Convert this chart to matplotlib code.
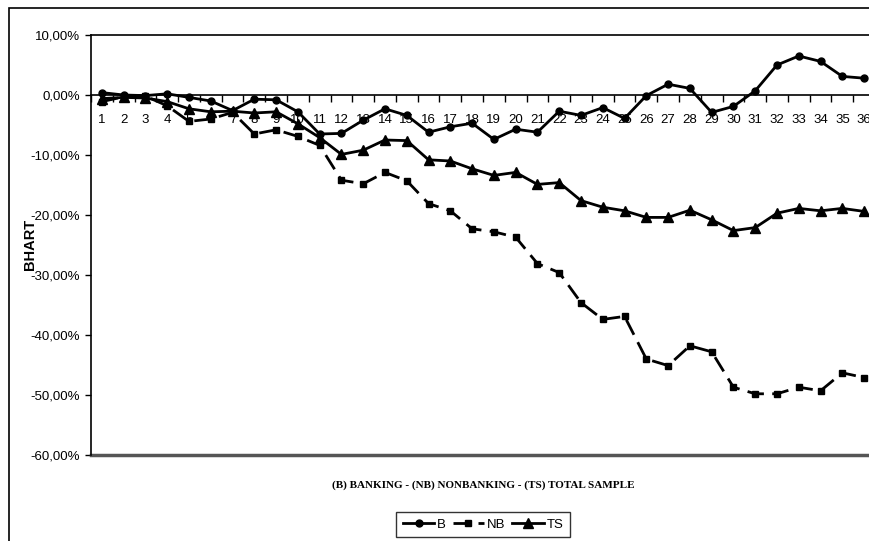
import matplotlib
matplotlib.use("Agg")
import matplotlib.pyplot as plt
from matplotlib.patches import Rectangle
from matplotlib import font_manager

names = {f.name for f in font_manager.fontManager.ttflist}
narrow = 'Liberation Sans Narrow' if 'Liberation Sans Narrow' in names else 'Liberation Sans'

months = list(range(1, 37))
b_vals = [0.4, 0.0, -0.1, 0.2, -0.4, -1.0, -2.6, -0.7, -0.8, -2.8, -6.5, -6.4,
          -4.2, -2.3, -3.4, -6.2, -5.3, -4.7, -7.4, -5.7, -6.2, -2.7, -3.4, -2.1,
          -3.9, -0.1, 1.8, 1.1, -2.9, -1.9, 0.7, 5.0, 6.5, 5.6, 3.1, 2.8]
nb_vals = [-1.1, -0.3, -0.2, -1.8, -4.4, -4.0, -2.9, -6.5, -5.8, -6.9, -8.4, -14.2,
           -14.8, -12.9, -14.3, -18.1, -19.3, -22.3, -22.8, -23.7, -28.1, -29.6, -34.6, -37.4,
           -36.9, -44.0, -45.1, -41.8, -42.8, -48.7, -49.8, -49.8, -48.7, -49.3, -46.3, -47.1]
ts_vals = [-0.6, -0.4, -0.5, -1.1, -2.3, -2.8, -2.7, -3.0, -2.8, -4.8, -7.1, -9.9,
           -9.2, -7.5, -7.6, -10.8, -11.0, -12.3, -13.4, -12.9, -14.9, -14.6, -17.6, -18.7,
           -19.3, -20.4, -20.4, -19.2, -20.8, -22.6, -22.1, -19.7, -18.9, -19.3, -18.9, -19.4]
y_ticks = [10, 0, -10, -20, -30, -40, -50, -60]

fig = plt.figure(figsize=(8.7, 5.41), dpi=100)
ax = fig.add_axes([91/870, 1-455/541, 784/870, 420/541])

ax.plot(months, b_vals, color='black', lw=2, marker='o', ms=5, label='B')
ax.plot(months, nb_vals, color='black', lw=2, marker='s', ms=5, dashes=(6, 3), label='NB')
ax.plot(months, ts_vals, color='black', lw=2, marker='^', ms=7, label='TS')

ax.set_xlim(0.5, 36.5)
ax.set_ylim(-60, 10)

# x axis crosses at 0, plot area edge drawn at -60
ax.spines['bottom'].set_position(('data', 0))
ax.spines['right'].set_visible(False)
ax.spines['top'].set_linewidth(1.2)
ax.spines['left'].set_linewidth(1.2)
ax.spines['bottom'].set_linewidth(1.2)
ax.axhline(-60, color='#555555', lw=2.5, clip_on=False)

ax.set_xticks([m + 0.5 for m in [0] + months])
ax.set_xticklabels([])
ax.tick_params(axis='x', which='major', direction='out', length=5, width=1)
ax.set_xticks(months, minor=True)
ax.set_xticklabels([str(m) for m in months], minor=True, fontsize=9.5, family=narrow)
ax.tick_params(axis='x', which='minor', length=0, pad=14)

ax.set_yticks(y_ticks)
ax.set_yticklabels([f"{v:.2f}%".replace('.', ',') for v in y_ticks], fontsize=9.5, family=narrow)
ax.tick_params(axis='y', direction='out', length=4, width=1, pad=4)

fig.text(30/870, 1-244/541, 'BHART', rotation=90, ha='center', va='center',
         fontsize=10.5, fontweight='bold', family='Liberation Sans')
fig.text(483/870, 1-485/541, '(B) BANKING - (NB) NONBANKING - (TS) TOTAL SAMPLE',
         ha='center', va='center', fontsize=8, fontweight='bold', family='Liberation Serif')

leg = fig.legend(loc='upper center', bbox_to_anchor=(483/870, 1-512/541), ncol=3,
                 frameon=True, fancybox=False, edgecolor='black', handlelength=2.4,
                 handletextpad=0.2, columnspacing=0.5, borderpad=0.5, borderaxespad=0,
                 prop={'family': narrow, 'size': 9.5})
leg.get_frame().set_linewidth(1)

fig.patches.append(Rectangle((9/870, -0.1), 1.0, 1.1 - 8/541, transform=fig.transFigure,
                             fill=False, edgecolor='black', lw=1.2))

fig.savefig('out.png', dpi=100)
